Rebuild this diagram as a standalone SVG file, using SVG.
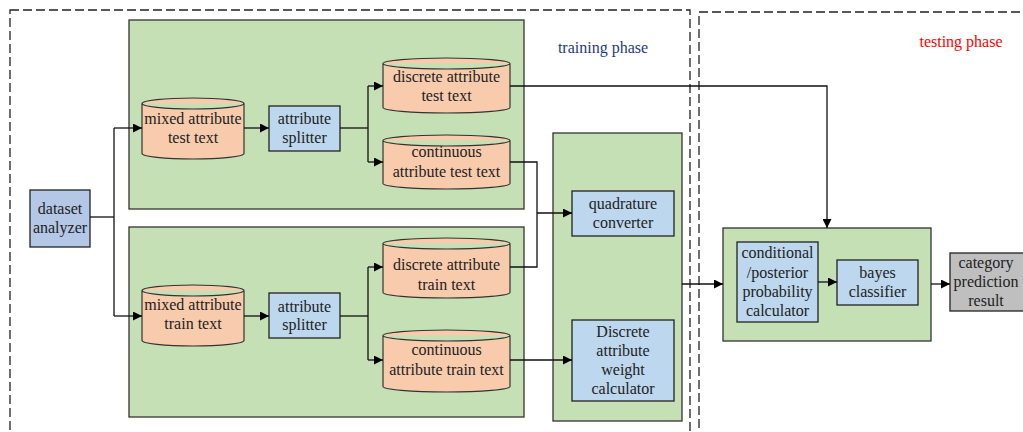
<svg xmlns="http://www.w3.org/2000/svg" width="1023" height="432" viewBox="0 0 1023 432">
<defs>
<marker id="arr" viewBox="0 0 10 10" refX="10" refY="5" markerWidth="9" markerHeight="9" markerUnits="userSpaceOnUse" orient="auto">
<path d="M0,0 L10,5 L0,10 Z" fill="#000"/>
</marker>
<style>
.phase{fill:none;stroke:#222;stroke-width:1.3;stroke-dasharray:9,4}
.grp{fill:#c5e0b4;stroke:#333;stroke-width:1.3}
.cyl{fill:#f8cbad;stroke:#333;stroke-width:1.2}
.box{fill:#bdd7ee;stroke:#222;stroke-width:1.3}
.ds{fill:#b4c7e7;stroke:#222;stroke-width:1.3}
.res{fill:#bfbfbf;stroke:#222;stroke-width:1.3}
.conn{fill:none;stroke:#111;stroke-width:1.3}
text{font-family:"Liberation Serif","Times New Roman",serif;font-size:16px;fill:#222;text-anchor:middle}
.lbl{font-size:16px}
</style>
</defs>

<rect class="phase" x="10" y="10" width="680" height="440"/>
<rect class="phase" x="699" y="12" width="340" height="440"/>
<text class="lbl" x="603" y="53" style="fill:#1f3a7a">training phase</text>
<text class="lbl" x="961" y="47" style="fill:#ff0000">testing phase</text>

<g id="group-test"><rect class="grp" x="129" y="20" width="395" height="189"/></g>
<g id="group-train"><rect class="grp" x="129" y="227" width="395" height="190"/></g>
<g id="group-convert"><rect class="grp" x="553" y="133" width="129" height="288"/></g>
<g id="group-classify"><rect class="grp" x="723" y="228" width="208" height="113"/></g>

<g id="dataset-analyzer">
<rect class="ds" x="30" y="190" width="60" height="57"/>
<text x="60" y="214">dataset</text><text x="60" y="233">analyzer</text>
</g>

<g id="mixed-test">
<path class="cyl" d="M142,103.5 A51,5.5 0 0 1 244,103.5 V153.5 A51,5.5 0 0 1 142,153.5 Z M142,103.5 A51,5.5 0 0 0 244,103.5"/>
<text x="193" y="124">mixed attribute</text><text x="193" y="143">test text</text>
</g>
<g id="splitter-test">
<rect class="box" x="269" y="106" width="71" height="45"/>
<text x="304.5" y="124">attribute</text><text x="304.5" y="143">splitter</text>
</g>
<g id="discrete-test">
<path class="cyl" d="M383,63.5 A63.5,5.5 0 0 1 510,63.5 V107.5 A63.5,5.5 0 0 1 383,107.5 Z M383,63.5 A63.5,5.5 0 0 0 510,63.5"/>
<text x="446.5" y="82">discrete attribute</text><text x="446.5" y="101">test text</text>
</g>
<g id="continuous-test">
<path class="cyl" d="M383,140.5 A63.5,5.5 0 0 1 510,140.5 V183.5 A63.5,5.5 0 0 1 383,183.5 Z M383,140.5 A63.5,5.5 0 0 0 510,140.5"/>
<text x="446.5" y="157">continuous</text><text x="446.5" y="177">attribute test text</text>
</g>

<g id="mixed-train">
<path class="cyl" d="M142,290.5 A51,5.5 0 0 1 244,290.5 V340.5 A51,5.5 0 0 1 142,340.5 Z M142,290.5 A51,5.5 0 0 0 244,290.5"/>
<text x="193" y="310">mixed attribute</text><text x="193" y="329">train text</text>
</g>
<g id="splitter-train">
<rect class="box" x="269" y="293" width="71" height="45"/>
<text x="304.5" y="312">attribute</text><text x="304.5" y="330">splitter</text>
</g>
<g id="discrete-train">
<path class="cyl" d="M383,243.5 A63.5,5.5 0 0 1 510,243.5 V292.5 A63.5,5.5 0 0 1 383,292.5 Z M383,243.5 A63.5,5.5 0 0 0 510,243.5"/>
<text x="446.5" y="270">discrete attribute</text><text x="446.5" y="290">train text</text>
</g>
<g id="continuous-train">
<path class="cyl" d="M383,335.5 A63.5,5.5 0 0 1 510,335.5 V386.5 A63.5,5.5 0 0 1 383,386.5 Z M383,335.5 A63.5,5.5 0 0 0 510,335.5"/>
<text x="446.5" y="355">continuous</text><text x="446.5" y="375">attribute train text</text>
</g>

<g id="quadrature-converter">
<rect class="box" x="572" y="191" width="102" height="45"/>
<text x="623" y="209">quadrature</text><text x="623" y="228">converter</text>
</g>
<g id="weight-calculator">
<rect class="box" x="572" y="320" width="102" height="81"/>
<text x="623" y="337">Discrete</text><text x="623" y="356">attribute</text><text x="623" y="375">weight</text><text x="623" y="394">calculator</text>
</g>

<g id="probability-calculator">
<rect class="box" x="737" y="242" width="81" height="80"/>
<text x="777.5" y="258">conditional</text><text x="777.5" y="278">/posterior</text><text x="777.5" y="297">probability</text><text x="777.5" y="316">calculator</text>
</g>
<g id="bayes-classifier">
<rect class="box" x="837" y="260" width="81" height="45"/>
<text x="877.5" y="278">bayes</text><text x="877.5" y="297">classifier</text>
</g>
<g id="prediction-result">
<rect class="res" x="950" y="253" width="80" height="58"/>
<text x="986" y="268">category</text><text x="986" y="287">prediction</text><text x="986" y="306">result</text>
</g>

<g id="connectors">
<path class="conn" d="M90,217 H114"/>
<path class="conn" d="M114,128 V316"/>
<path class="conn" d="M114,128 H142" marker-end="url(#arr)"/>
<path class="conn" d="M114,316 H142" marker-end="url(#arr)"/>
<path class="conn" d="M244,128 H269" marker-end="url(#arr)"/>
<path class="conn" d="M244,316 H269" marker-end="url(#arr)"/>
<path class="conn" d="M340,128 H368"/>
<path class="conn" d="M368,86 V162"/>
<path class="conn" d="M368,86 H383" marker-end="url(#arr)"/>
<path class="conn" d="M368,162 H383" marker-end="url(#arr)"/>
<path class="conn" d="M340,316 H368"/>
<path class="conn" d="M368,267 V360"/>
<path class="conn" d="M368,267 H383" marker-end="url(#arr)"/>
<path class="conn" d="M368,360 H383" marker-end="url(#arr)"/>
<path class="conn" d="M510,162 H537 V213"/>
<path class="conn" d="M510,267 H537 V213"/>
<path class="conn" d="M537,213 H572" marker-end="url(#arr)"/>
<path class="conn" d="M510,360 H572" marker-end="url(#arr)"/>
<path class="conn" d="M510,86 H827 V228" marker-end="url(#arr)"/>
<path class="conn" d="M682,284 H723" marker-end="url(#arr)"/>
<path class="conn" d="M818,282 H837" marker-end="url(#arr)"/>
<path class="conn" d="M931,284 H950" marker-end="url(#arr)"/>
</g>
</svg>
